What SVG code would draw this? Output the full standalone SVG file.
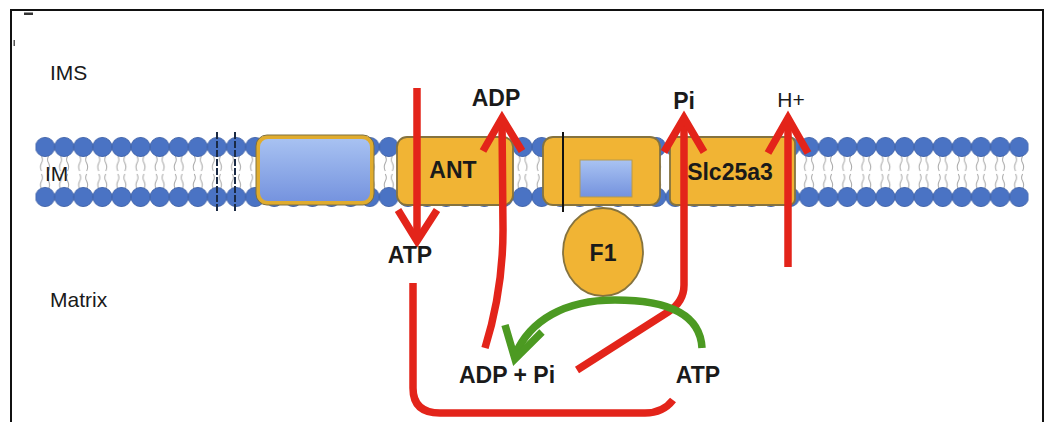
<svg xmlns="http://www.w3.org/2000/svg" width="1047" height="422" viewBox="0 0 1047 422">
<style>
.lbl{font-family:"Liberation Sans",Arial,sans-serif;font-weight:bold;font-size:23px;fill:#1a1a1a}
.reg{font-family:"Liberation Sans",Arial,sans-serif;font-size:21px;fill:#1a1a1a}
.box{fill:#f1b434;stroke:#85733f;stroke-width:1.8}
.red{fill:none;stroke:#e3241a;stroke-width:7.5;stroke-linejoin:miter}
.grn{fill:none;stroke:#4c9a22;stroke-width:7.5}
</style>
<defs>
<linearGradient id="blue" x1="0" y1="0" x2="0" y2="1">
<stop offset="0" stop-color="#a9c3f2"/>
<stop offset="1" stop-color="#7492de"/>
</linearGradient>
<pattern id="lipid" x="35.5" y="0" width="19.1" height="422" patternUnits="userSpaceOnUse">
<g stroke="#a8a8a8" stroke-width="1" fill="none">
<path d="M6,156 q2,4 0,7 q-2,4 0,8 M13,156 q-2,4 0,7 q2,4 0,8"/>
<path d="M6,174 q2,4 0,7 q-2,4 0,8 M13,174 q-2,4 0,7 q2,4 0,8"/>
</g>
<circle cx="9.55" cy="147" r="9.6" fill="#4a73c4" stroke="#3558a0" stroke-width="0.8"/>
<circle cx="9.55" cy="197" r="9.6" fill="#4a73c4" stroke="#3558a0" stroke-width="0.8"/>
</pattern>
</defs>
<rect x="0" y="0" width="1047" height="422" fill="#ffffff"/>
<path d="M11,430 L11,10 L1043,10 L1043,430" fill="none" stroke="#111" stroke-width="2"/>
<rect x="24" y="12.5" width="9" height="2.5" fill="#333"/>
<rect x="13.5" y="40" width="1.5" height="6" fill="#555"/>

<g id="membrane">
<rect x="35.5" y="136" width="993" height="72" fill="url(#lipid)"/>
<line x1="217" y1="132" x2="217" y2="213" stroke="#1a2a44" stroke-width="2" stroke-dasharray="7,2"/>
<line x1="235" y1="132" x2="235" y2="213" stroke="#1a2a44" stroke-width="2" stroke-dasharray="7,2"/>
</g>

<g id="labels-regions">
<text class="reg" x="50" y="80">IMS</text>
<text class="reg" x="45" y="181" font-size="19">IM</text>
<text class="reg" x="50" y="307">Matrix</text>
</g>

<g id="box1">
<rect x="258" y="137" width="114" height="66" rx="10" fill="url(#blue)" stroke="#e0ac2e" stroke-width="4"/>
<rect x="256" y="135" width="118" height="70" rx="11" fill="none" stroke="#7f703f" stroke-width="1"/>
</g>

<g id="ANT">
<rect class="box" x="397" y="137" width="116" height="68" rx="10"/>
<text class="lbl" x="453" y="178" text-anchor="middle">ANT</text>
</g>

<g id="F0">
<rect class="box" x="543" y="137" width="117" height="68" rx="10"/>
<rect x="580" y="160" width="52" height="37" fill="url(#blue)" stroke="#b89a4a" stroke-width="1"/>
<line x1="563" y1="132" x2="563" y2="212" stroke="#111" stroke-width="2"/>
</g>

<g id="F1">
<ellipse class="box" cx="603" cy="252" rx="40" ry="44"/>
<text class="lbl" x="603" y="261" text-anchor="middle">F1</text>
</g>

<g id="Slc25a3">
<rect class="box" x="670" y="137" width="125" height="68" rx="6"/>
<text class="lbl" x="730" y="180" text-anchor="middle" font-size="25">Slc25a3</text>
</g>

<g id="connectors">
<path class="red" d="M417,88 L417,238"/>
<path class="red" d="M398,210 L417,241 L437,210"/>
<path class="red" d="M485,348 Q503,290 503,230 L502,120"/>
<path class="red" d="M483,151 L502,118 L522,151"/>
<path class="red" d="M577,370 L668,312 Q684,302 684,285 L684,120"/>
<path class="red" d="M664,152 L684,118 L704,152"/>
<path class="red" d="M788,267 L788,120"/>
<path class="red" d="M768,153 L788,118 L808,153"/>
<path class="red" d="M413,283 L413,388 Q413,413 440,413 L645,413 Q663,413 673,400"/>
<path class="grn" d="M702,348 C700,310 660,300 615,300 C565,300 530,320 515,355"/>
<path class="grn" d="M505,325 L515,359 L542,332"/>
</g>

<g id="species">
<text class="lbl" x="496" y="106" text-anchor="middle">ADP</text>
<text class="lbl" x="684" y="109" text-anchor="middle">Pi</text>
<text class="reg" x="791" y="107" text-anchor="middle" font-size="22">H+</text>
<text class="lbl" x="410" y="263" text-anchor="middle">ATP</text>
<text class="lbl" x="507" y="383" text-anchor="middle">ADP + Pi</text>
<text class="lbl" x="698" y="383" text-anchor="middle">ATP</text>
</g>
</svg>
